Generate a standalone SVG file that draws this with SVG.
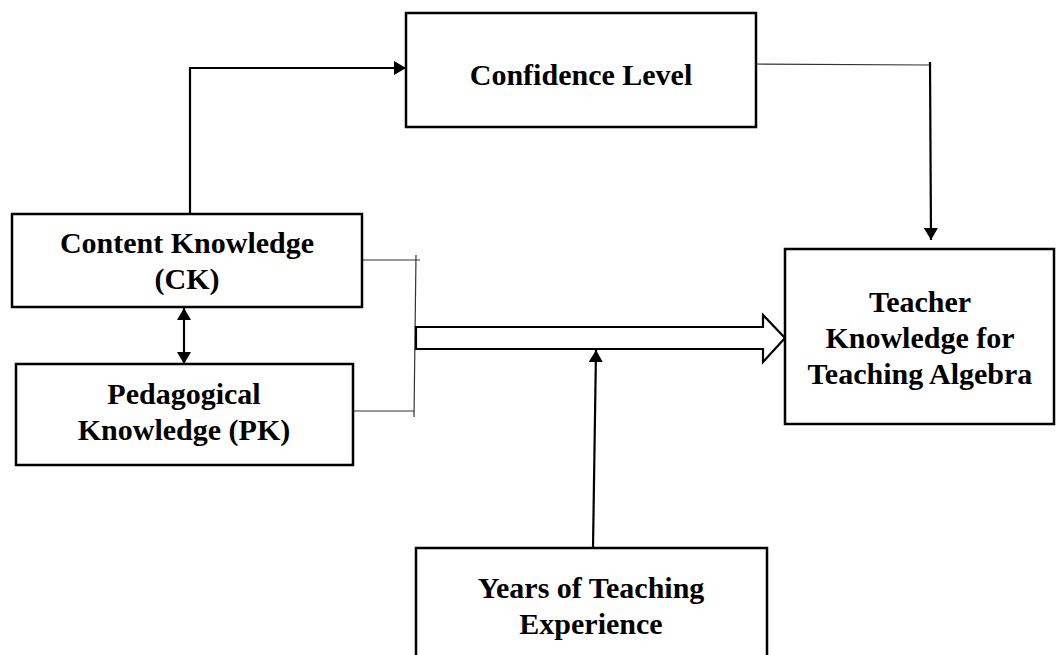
<svg xmlns="http://www.w3.org/2000/svg" width="1056" height="655" viewBox="0 0 1056 655">
<style>
.box{fill:#fff;stroke:#000;stroke-width:2.5}
.t{font-family:"Liberation Serif","Times New Roman",serif;font-weight:bold;font-size:30px;fill:#000;text-anchor:middle}
.thin{fill:none;stroke:#333;stroke-width:1.2}
.thick{fill:none;stroke:#000;stroke-width:2.2}
</style>
<defs>
<marker id="ah" viewBox="0 0 12 14" refX="12" refY="7" markerWidth="12" markerHeight="14" markerUnits="userSpaceOnUse" orient="auto-start-reverse">
<path d="M0,0 L12,7 L0,14 Z" fill="#000"/>
</marker>
</defs>
<rect width="1056" height="655" fill="#fff"/>
<g id="connectors">
<polyline class="thick" points="190,214 190,68 406,68" marker-end="url(#ah)"/>
<line class="thin" x1="755" y1="64" x2="930" y2="65"/>
<line class="thick" x1="930" y1="62" x2="931" y2="240" marker-end="url(#ah)"/>
<line class="thick" x1="184" y1="308" x2="184" y2="364" marker-start="url(#ah)" marker-end="url(#ah)"/>
<line class="thin" x1="358" y1="260" x2="420" y2="260"/>
<line class="thin" x1="416" y1="255" x2="414" y2="417"/>
<line class="thin" x1="353" y1="411" x2="414" y2="411"/>
<path d="M416,327 L763,327 L763,315 L785,338 L763,362 L763,349 L416,349 Z" fill="#fff" stroke="#000" stroke-width="2.2"/>
<line class="thick" x1="593" y1="548" x2="596" y2="350" marker-end="url(#ah)"/>
</g>
<g id="confidence">
<rect class="box" x="406" y="13" width="350" height="114"/>
<text class="t" x="581" y="85">Confidence Level</text>
</g>
<g id="ck">
<rect class="box" x="12" y="214" width="350" height="93"/>
<text class="t" x="187" y="253">Content Knowledge</text>
<text class="t" x="187" y="289">(CK)</text>
</g>
<g id="pk">
<rect class="box" x="16" y="364" width="337" height="101"/>
<text class="t" x="184" y="404">Pedagogical</text>
<text class="t" x="184" y="440">Knowledge (PK)</text>
</g>
<g id="teacher">
<rect class="box" x="785" y="249" width="269" height="175"/>
<text class="t" x="920" y="312">Teacher</text>
<text class="t" x="920" y="348">Knowledge for</text>
<text class="t" x="920" y="384">Teaching Algebra</text>
</g>
<g id="years">
<rect class="box" x="416" y="548" width="351" height="120"/>
<text class="t" x="591" y="598">Years of Teaching</text>
<text class="t" x="591" y="634">Experience</text>
</g>
</svg>
